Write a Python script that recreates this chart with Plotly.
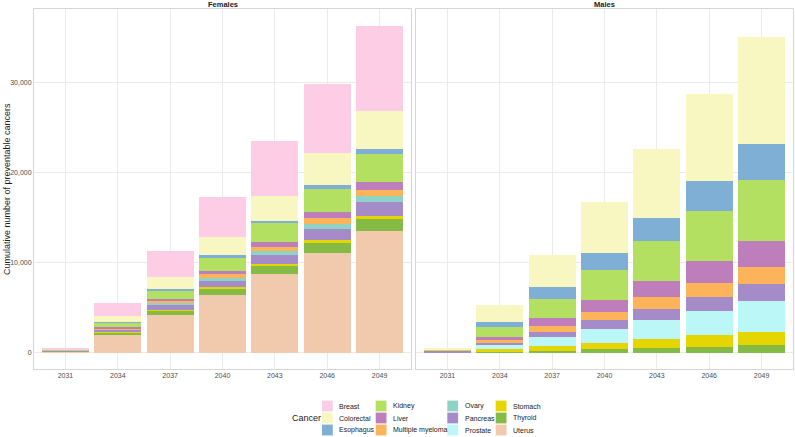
import plotly.graph_objects as go

years = ["2031", "2034", "2037", "2040", "2043", "2046", "2049"]

# stacking order, bottom to top
stack_order = ["Uterus", "Thyroid", "Stomach", "Prostate", "Pancreas", "Ovary",
               "Multiple myeloma", "Liver", "Kidney", "Esophagus", "Colorectal", "Breast"]

female_uterus = [150, 2000, 4250, 6450, 8750, 11100, 13500]
female_thyroid = [30, 300, 400, 650, 850, 1100, 1300]
female_stomach = [5, 50, 100, 200, 250, 300, 400]
female_prostate = [0, 0, 0, 0, 0, 0, 0]
female_pancreas = [30, 200, 550, 700, 950, 1200, 1500]
female_ovary = [15, 100, 250, 350, 500, 600, 650]
female_mm = [10, 100, 200, 350, 450, 600, 750]
female_liver = [10, 100, 250, 400, 550, 700, 800]
female_kidney = [100, 550, 900, 1500, 2050, 2600, 3150]
female_esophagus = [10, 50, 200, 200, 300, 400, 500]
female_colorectal = [60, 600, 1300, 2050, 2750, 3500, 4300]
female_breast = [130, 1500, 2900, 4450, 6100, 7700, 9400]

male_uterus = [0, 0, 0, 0, 0, 0, 0]
male_thyroid = [20, 150, 250, 400, 500, 650, 850]
male_stomach = [30, 250, 500, 700, 1000, 1300, 1500]
male_prostate = [50, 500, 1000, 1600, 2150, 2700, 3350]
male_pancreas = [40, 250, 600, 900, 1250, 1600, 1950]
male_ovary = [0, 0, 0, 0, 0, 0, 0]
male_mm = [40, 250, 600, 950, 1250, 1550, 1900]
male_liver = [50, 350, 900, 1300, 1800, 2350, 2850]
male_kidney = [120, 1150, 2150, 3350, 4500, 5550, 6800]
male_esophagus = [50, 550, 1300, 1900, 2550, 3350, 4000]
male_colorectal = [100, 1850, 3600, 5600, 7600, 9650, 11800]
male_breast = [0, 0, 0, 0, 0, 0, 0]

females = {
    "Uterus": female_uterus, "Thyroid": female_thyroid, "Stomach": female_stomach,
    "Prostate": female_prostate, "Pancreas": female_pancreas, "Ovary": female_ovary,
    "Multiple myeloma": female_mm, "Liver": female_liver, "Kidney": female_kidney,
    "Esophagus": female_esophagus, "Colorectal": female_colorectal, "Breast": female_breast,
}
males = {
    "Uterus": male_uterus, "Thyroid": male_thyroid, "Stomach": male_stomach,
    "Prostate": male_prostate, "Pancreas": male_pancreas, "Ovary": male_ovary,
    "Multiple myeloma": male_mm, "Liver": male_liver, "Kidney": male_kidney,
    "Esophagus": male_esophagus, "Colorectal": male_colorectal, "Breast": male_breast,
}

colors = {
    "Breast": "#FCCDE5", "Colorectal": "#F9F7C1", "Esophagus": "#7FAFD5",
    "Kidney": "#B3E061", "Liver": "#BE7DBB", "Multiple myeloma": "#FDB35A",
    "Ovary": "#8ED3C5", "Pancreas": "#A58CC8", "Prostate": "#BBF7F7",
    "Stomach": "#E5D500", "Thyroid": "#85BB44", "Uterus": "#F1C9AD",
}

legend_columns = [["Breast", "Colorectal", "Esophagus"],
                  ["Kidney", "Liver", "Multiple myeloma"],
                  ["Ovary", "Pancreas", "Prostate"],
                  ["Stomach", "Thyroid", "Uterus"]]

W, H = 795, 437
fig = go.Figure()

for name in stack_order:
    fig.add_trace(go.Bar(x=years, y=females[name], name=name, marker_color=colors[name],
                         marker_line_width=0, width=0.9, xaxis="x", yaxis="y",
                         showlegend=False))
    fig.add_trace(go.Bar(x=years, y=males[name], name=name, marker_color=colors[name],
                         marker_line_width=0, width=0.9, xaxis="x2", yaxis="y2",
                         showlegend=False))

def px_x(p):
    return p / W

def px_y(p):
    return 1 - p / H

panel_top, panel_bot = 9, 369
left = (34, 411)
right = (416, 793)

ymin, ymax = -1780, 38100
tick_font = dict(family="Liberation Sans, Arial", size=7, color="#4D4D4D")
common_x = dict(type="category", categoryorder="array", categoryarray=years,
                range=[-0.6, 6.6], showgrid=True, gridcolor="#EBEBEB", gridwidth=1,
                showline=True, mirror=True, linecolor="#D6D6D6", linewidth=1,
                ticks="", tickfont=tick_font, zeroline=False)
common_y = dict(range=[ymin, ymax], showgrid=True, gridcolor="#EBEBEB", gridwidth=1,
                tickvals=[0, 10000, 20000, 30000], tickformat=",d",
                showline=True, mirror=True, linecolor="#D6D6D6", linewidth=1,
                ticks="", zeroline=False, tickfont=tick_font)

fig.update_layout(
    width=W, height=H, barmode="stack", bargap=0.1,
    paper_bgcolor="white", plot_bgcolor="white",
    margin=dict(l=0, r=0, t=0, b=0),
    showlegend=False,
    xaxis=dict(common_x, domain=[px_x(left[0]), px_x(left[1])], anchor="y"),
    xaxis2=dict(common_x, domain=[px_x(right[0]), px_x(right[1])], anchor="y2"),
    yaxis=dict(common_y, domain=[px_y(panel_bot), px_y(panel_top)], anchor="x"),
    yaxis2=dict(common_y, domain=[px_y(panel_bot), px_y(panel_top)], anchor="x2",
                matches="y", showticklabels=False),
)

annotations = []
shapes = []
font = "Liberation Sans, Arial"
# strip titles
annotations.append(dict(text="<b>Females</b>", x=px_x((left[0] + left[1]) / 2), y=px_y(4.5),
                        xref="paper", yref="paper", showarrow=False, xanchor="center",
                        yanchor="middle", font=dict(family=font, size=7.5, color="#1A1A1A")))
annotations.append(dict(text="<b>Males</b>", x=px_x((right[0] + right[1]) / 2), y=px_y(4.5),
                        xref="paper", yref="paper", showarrow=False, xanchor="center",
                        yanchor="middle", font=dict(family=font, size=7.5, color="#1A1A1A")))
# y-axis title
annotations.append(dict(text="Cumulative number of preventable cancers", x=px_x(7),
                        y=px_y((panel_top + panel_bot) / 2), xref="paper", yref="paper",
                        showarrow=False, textangle=-90, xanchor="center", yanchor="middle",
                        font=dict(family=font, size=9, color="#1A1A1A")))
# legend
annotations.append(dict(text="Cancer", x=px_x(290), y=px_y(418), xref="paper", yref="paper",
                        showarrow=False, xanchor="left", yanchor="middle",
                        font=dict(family=font, size=9, color="#1A1A1A")))
key_x = [322, 375.7, 447.3, 495.7]
row_y = [406, 418, 430]
for ci, col in enumerate(legend_columns):
    for ri, name in enumerate(col):
        x0 = key_x[ci]
        yc = row_y[ri]
        shapes.append(dict(type="rect", xref="paper", yref="paper",
                           x0=px_x(x0), x1=px_x(x0 + 10.8),
                           y0=px_y(yc + 5.4), y1=px_y(yc - 5.4),
                           fillcolor=colors[name], line=dict(width=0)))
        annotations.append(dict(text=name, x=px_x(x0 + 15.3), y=px_y(yc), xref="paper",
                                yref="paper", showarrow=False, xanchor="left",
                                yanchor="middle",
                                font=dict(family=font, size=7, color="#1A1A1A")))

fig.update_layout(annotations=annotations, shapes=shapes)
fig.write_html("out.html", config={"displayModeBar": False},
               post_script="document.body.style.margin='0';document.body.style.padding='0';"
                           "document.body.style.overflow='hidden';")
